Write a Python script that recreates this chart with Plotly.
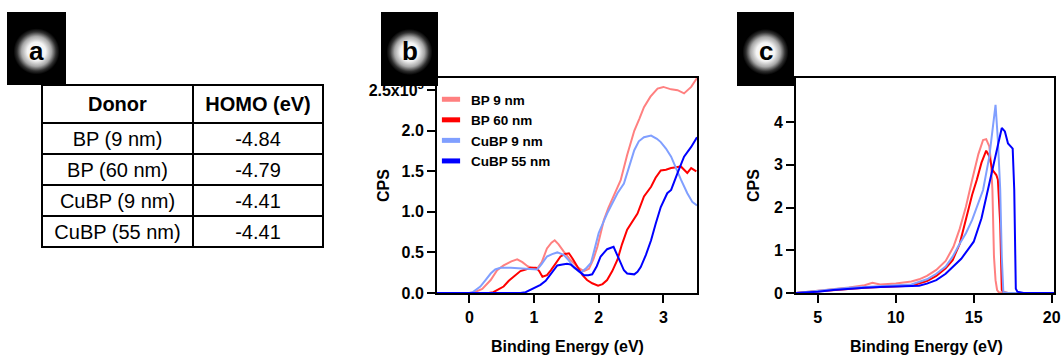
import base64
import plotly.graph_objects as go

W, H = 1062, 356
FONT = "Liberation Sans"

# ---------------- Panel a: table ----------------
donors = ["BP (9 nm)", "BP (60 nm)", "CuBP (9 nm)", "CuBP (55 nm)"]
homo = [-4.84, -4.79, -4.41, -4.41]

# ---------------- Panel b: valence region ----------------
bp9_x = [-0.5, 0.0, 0.08, 0.2, 0.33, 0.43, 0.53, 0.65, 0.74, 0.82, 0.9, 0.97, 1.05, 1.12, 1.2, 1.27,
         1.32, 1.38, 1.46, 1.55, 1.67, 1.77, 1.85, 1.92, 1.98, 2.08, 2.15, 2.23, 2.34, 2.44, 2.55,
         2.63, 2.70, 2.8, 2.91, 3.0, 3.12, 3.22, 3.32, 3.43, 3.52]
bp9_y = [0, 0, 0.01, 0.05, 0.16, 0.28, 0.34, 0.39, 0.415, 0.38, 0.33, 0.31, 0.30, 0.38, 0.55, 0.62,
         0.65, 0.6, 0.51, 0.42, 0.32, 0.27, 0.3, 0.42, 0.57, 0.9, 1.05, 1.19, 1.39, 1.70, 2.0,
         2.15, 2.29, 2.42, 2.52, 2.54, 2.51, 2.5, 2.46, 2.54, 2.65]

bp60_x = [-0.5, 0.3, 0.37, 0.45, 0.53, 0.61, 0.69, 0.79, 0.87, 0.95, 1.03, 1.08, 1.13, 1.2, 1.26, 1.33,
          1.41, 1.48, 1.54, 1.6, 1.67, 1.75, 1.82, 1.9, 1.99, 2.06, 2.13, 2.21, 2.29, 2.36, 2.44,
          2.52, 2.6, 2.7, 2.81, 2.88, 2.96, 3.04, 3.12, 3.2, 3.27, 3.37, 3.43, 3.51]
bp60_y = [0, 0, 0.01, 0.04, 0.08, 0.15, 0.2, 0.27, 0.29, 0.31, 0.31, 0.27, 0.2, 0.22, 0.28, 0.36,
          0.45, 0.48, 0.49, 0.42, 0.32, 0.22, 0.16, 0.12, 0.09, 0.11, 0.16, 0.27, 0.41, 0.6, 0.78,
          0.88, 0.98, 1.19, 1.31, 1.42, 1.51, 1.52, 1.54, 1.55, 1.56, 1.48, 1.54, 1.50]

cubp9_x = [-0.5, 0.0, 0.05, 0.17, 0.25, 0.33, 0.4, 0.48, 0.64, 0.84, 1.05, 1.12, 1.2, 1.28, 1.36, 1.46,
           1.54, 1.62, 1.72, 1.8, 1.88, 1.94, 2.0, 2.13, 2.29, 2.39, 2.47, 2.55, 2.62, 2.70, 2.81,
           2.9, 2.96, 3.04, 3.12, 3.2, 3.27, 3.37, 3.45, 3.52]
cubp9_y = [0, 0, 0.01, 0.08, 0.16, 0.24, 0.29, 0.31, 0.31, 0.30, 0.29, 0.36, 0.45, 0.48, 0.50, 0.47,
           0.40, 0.31, 0.25, 0.3, 0.37, 0.55, 0.74, 0.98, 1.23, 1.35, 1.55, 1.76, 1.87, 1.92, 1.94,
           1.9, 1.86, 1.78, 1.68, 1.52, 1.40, 1.23, 1.12, 1.08]

cubp55_x = [-0.5, 0.79, 0.87, 0.95, 1.03, 1.1, 1.18, 1.26, 1.36, 1.44, 1.51, 1.57, 1.62, 1.7, 1.77,
            1.84, 1.9, 1.97, 2.03, 2.13, 2.23, 2.28, 2.34, 2.39, 2.44, 2.5, 2.55, 2.6, 2.65, 2.73,
            2.81, 2.88, 2.96, 3.06, 3.12, 3.22, 3.32, 3.43, 3.52]
cubp55_y = [0, 0, 0.01, 0.04, 0.07, 0.1, 0.15, 0.24, 0.34, 0.35, 0.36, 0.35, 0.32, 0.27, 0.22,
            0.22, 0.23, 0.33, 0.45, 0.54, 0.57, 0.48, 0.37, 0.28, 0.24, 0.23, 0.23, 0.26, 0.32, 0.47,
            0.65, 0.85, 1.06, 1.23, 1.27, 1.48, 1.68, 1.80, 1.92]

# ---------------- Panel c: full spectrum ----------------
c_bp9_x = [3.6, 5, 6, 7, 8, 8.5, 9, 10, 11, 11.5, 12, 12.6, 13.2, 13.7, 14.1, 14.5, 14.9, 15.3, 15.6,
           15.8, 16.0, 16.1, 16.2, 16.3, 16.4, 16.5, 16.6, 17, 20.2]
c_bp9_y = [0, 0.05, 0.1, 0.13, 0.18, 0.24, 0.2, 0.22, 0.27, 0.32, 0.4, 0.54, 0.75, 1.08, 1.5, 2.02,
           2.65, 3.25, 3.58, 3.6, 3.43, 3.1, 2.41, 0.85, 0.3, 0.07, 0.02, 0, 0]

c_bp60_x = [3.6, 5, 6, 7, 8, 9, 10, 11, 12, 12.6, 13.2, 13.65, 14.1, 14.5, 14.9, 15.2, 15.5, 15.8,
            16.0, 16.2, 16.45, 16.55, 16.7, 16.8, 16.9, 17.2, 20.2]
c_bp60_y = [0, 0.04, 0.08, 0.1, 0.12, 0.14, 0.15, 0.17, 0.28, 0.4, 0.58, 0.77, 1.15, 1.71, 2.3, 2.65,
            3.05, 3.33, 3.2, 2.88, 2.76, 2.65, 1.63, 0.07, 0.02, 0, 0]

c_cubp9_x = [3.6, 5, 6, 7, 8, 9, 10, 11, 12, 12.6, 13.2, 13.65, 14.1, 14.5, 14.9, 15.6, 16.0, 16.2,
             16.4, 16.55, 16.7, 16.8, 16.9, 17.2, 20.2]
c_cubp9_y = [0, 0.05, 0.1, 0.12, 0.14, 0.16, 0.17, 0.2, 0.32, 0.45, 0.62, 0.85, 1.15, 1.4, 1.71,
             2.41, 3.19, 3.8, 4.4, 3.58, 2.41, 0.85, 0.02, 0, 0]

c_cubp55_x = [3.6, 5, 6, 7, 8, 9, 10, 11, 11.5, 12, 12.6, 13.2, 13.65, 14.2, 14.7, 15.0, 15.5, 16.0,
              16.35, 16.6, 16.8, 17.0, 17.1, 17.2, 17.4, 17.5, 17.6, 17.7, 17.8, 18.2, 20.2]
c_cubp55_y = [0, 0.03, 0.07, 0.1, 0.12, 0.14, 0.15, 0.15, 0.17, 0.22, 0.3, 0.45, 0.6, 0.8, 1.05,
              1.2, 1.75, 2.57, 3.19, 3.6, 3.86, 3.78, 3.66, 3.5, 3.42, 3.38, 2.41, 0.1, 0.03, 0, 0]

names = ["BP 9 nm", "BP 60 nm", "CuBP 9 nm", "CuBP 55 nm"]
colors = ["#ff8080", "#ff0000", "#809fff", "#0000ff"]

b_series = [(bp9_x, bp9_y), (bp60_x, bp60_y), (cubp9_x, cubp9_y), (cubp55_x, cubp55_y)]
c_series = [(c_bp9_x, c_bp9_y), (c_bp60_x, c_bp60_y), (c_cubp9_x, c_cubp9_y), (c_cubp55_x, c_cubp55_y)]

b_yticks = [0, 0.5, 1.0, 1.5, 2.0, 2.5]
b_yticktext = ["0.0", "0.5", "1.0", "1.5", "2.0", "2.5x10<sup>5</sup>"]
b_xticks = [0, 1, 2, 3]
c_yticks = [0, 1, 2, 3, 4, 5]
c_yticktext = ["0", "1", "2", "3", "4", "5x10<sup>5</sup>"]
c_xticks = [5, 10, 15, 20]

fig = go.Figure()

# table
fig.add_trace(go.Table(
    domain=dict(x=[42 / W, 323 / W], y=[1 - 252 / H, 1 - 85 / H]),
    columnwidth=[151, 130],
    header=dict(values=["<b>Donor</b>", "<b>HOMO (eV)</b>"], height=32, align="center",
                line=dict(color="black", width=1.5), fill_color="white",
                font=dict(family=FONT, size=20, color="black")),
    cells=dict(values=[donors, [f"{v:.2f}" for v in homo]], height=31, align="center",
               line=dict(color="black", width=1.5), fill_color="white",
               font=dict(family=FONT, size=20, color="black")),
))

for (xs, ys), n, c in zip(b_series, names, colors):
    fig.add_trace(go.Scatter(x=xs, y=ys, mode="lines", line=dict(color=c, width=2),
                             showlegend=False, xaxis="x", yaxis="y"))
    # legend proxy
    fig.add_trace(go.Scatter(x=[None], y=[None], mode="markers", name=n,
                             marker=dict(symbol="line-ew-open", size=13, color=c,
                                         line=dict(color=c, width=6)),
                             xaxis="x", yaxis="y"))
for (xs, ys), n, c in zip(c_series, names, colors):
    fig.add_trace(go.Scatter(x=xs, y=ys, mode="lines", line=dict(color=c, width=2),
                             showlegend=False, xaxis="x2", yaxis="y2"))

ax_common = dict(showline=True, linecolor="black", linewidth=2, mirror=True, ticks="outside",
                 ticklen=8, tickwidth=2, tickcolor="black", showgrid=False, zeroline=False,
                 automargin=False,
                 tickfont=dict(family=FONT, size=16, color="black", weight="bold"))

y0, y1 = 1 - 293 / H, 1 - 78 / H
fig.update_layout(
    template="none",
    width=W, height=H, margin=dict(l=0, r=0, t=0, b=0, pad=0, autoexpand=False),
    paper_bgcolor="white", plot_bgcolor="white",
    xaxis=dict(domain=[437 / W, 697 / W], range=[-0.5, 3.52], tickvals=b_xticks, anchor="y",
               ticklabelstandoff=1, **ax_common),
    yaxis=dict(domain=[y0, y1], range=[0, 2.65], tickvals=b_yticks, ticktext=b_yticktext, anchor="x",
               **ax_common),
    xaxis2=dict(domain=[796 / W, 1054 / W], range=[3.6, 20.15], tickvals=c_xticks, anchor="y2",
                ticklabelstandoff=1, **ax_common),
    yaxis2=dict(domain=[y0, y1], range=[0, 5.03], tickvals=c_yticks, ticktext=c_yticktext, anchor="x2",
                **ax_common),
    legend=dict(x=431 / W, y=1 - 84 / H, xanchor="left", yanchor="top", bgcolor="rgba(0,0,0,0)",
                font=dict(family=FONT, size=13.5, color="black", weight="bold"),
                itemwidth=30, tracegroupgap=0, borderwidth=0),
    showlegend=True,
)

# axis titles
for xc, lab in [(567, "Binding Energy (eV)"), (926, "Binding Energy (eV)")]:
    fig.add_annotation(x=xc / W, y=1 - 346 / H, xref="paper", yref="paper", text=lab, showarrow=False,
                       xanchor="center", yanchor="middle",
                       font=dict(family=FONT, size=16, color="black", weight="bold"))
for xc in [383, 753]:
    fig.add_annotation(x=xc / W, y=1 - 186 / H, xref="paper", yref="paper", text="CPS", showarrow=False,
                       xanchor="center", yanchor="middle", textangle=-90,
                       font=dict(family=FONT, size=16, color="black", weight="bold"))


def glow(w, h):
    svg = (f'<svg xmlns="http://www.w3.org/2000/svg" width="{w}" height="{h}" viewBox="0 0 {w} {h}">'
           f'<defs><radialGradient id="g" cx="{w / 2}" cy="{h * 0.54}" r="23" gradientUnits="userSpaceOnUse">'
           '<stop offset="0" stop-color="#ffffff"/><stop offset="0.4" stop-color="#f4f4f4"/>'
           '<stop offset="0.65" stop-color="#a8a8a8"/><stop offset="0.85" stop-color="#303030"/>'
           '<stop offset="1" stop-color="#000000"/>'
           '</radialGradient></defs>'
           f'<rect width="{w}" height="{h}" fill="#000"/><rect width="{w}" height="{h}" fill="url(#g)"/></svg>')
    return "data:image/svg+xml;base64," + base64.b64encode(svg.encode()).decode()


boxes = [("a", 7, 12, 59, 73), ("b", 381, 12, 57, 74), ("c", 737, 12, 57, 74)]
for letter, bx, by, bw, bh in boxes:
    fig.add_layout_image(source=glow(bw, bh), xref="paper", yref="paper", x=bx / W, y=1 - by / H,
                         sizex=bw / W, sizey=bh / H, sizing="stretch", xanchor="left", yanchor="top",
                         layer="above")
    fig.add_annotation(x=(bx + bw / 2) / W, y=1 - (by + bh * 0.53) / H, xref="paper", yref="paper",
                       text=letter, showarrow=False, xanchor="center", yanchor="middle",
                       font=dict(family=FONT, size=26, color="black", weight="bold"))

fig.write_html("out.html")
